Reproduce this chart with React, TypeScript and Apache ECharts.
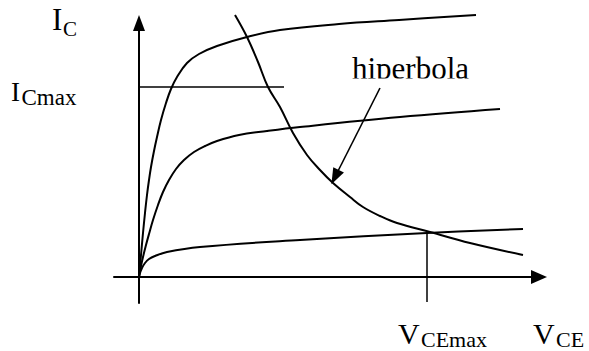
import React, { useEffect, useRef } from "react";
import * as echarts from "echarts";

// Schematic units: x = V_CE, y = I_C (arbitrary units, origin at the axes' crossing)
const curveHigh: [number, number][] = [
  [0, 0], [2, 22], [4, 44], [6, 64], [8, 82], [10, 97], [12, 110], [15, 126],
  [18, 140], [22, 157], [27, 174], [32, 188], [38, 200], [48, 214], [60, 223],
  [78, 231], [108, 240], [141, 247], [200, 253], [260, 257], [337, 262],
];
const curveMid: [number, number][] = [
  [0, 0], [1, 6], [2, 11], [4, 20], [7, 32], [10, 43], [14, 57], [19, 72],
  [24, 85], [30, 97], [37, 108], [45, 117], [55, 125], [66, 131], [78, 136],
  [100, 142], [128, 146], [161, 150], [261, 160], [361, 168],
];
const curveLow: [number, number][] = [
  [0, 0], [1, 4], [3, 9], [6, 14], [10, 18], [16, 21], [28, 25], [61, 30],
  [161, 37], [288, 44], [384, 48],
];
const hyperbola: [number, number][] = [
  [96, 262], [108, 240], [119, 215], [129, 190], [141, 170], [154, 144], [168, 122],
  [181, 107], [194, 94], [211, 80], [224, 70], [241, 61], [258, 54], [291, 45],
  [331, 34], [384, 22],
];
const icMaxLine: [number, number][] = [[0, 190], [145, 190]];
const vceMaxLine: [number, number][] = [[288, 45], [288, -25]];
const pointerFrom: [number, number] = [241, 189];
const pointerTo: [number, number] = [196, 100];

const labels = {
  ic: ["I", "C"],
  icmax: ["I", "Cmax"],
  vcemax: ["V", "CEmax"],
  vce: ["V", "CE"],
  hyper: "hiperbola",
};

const FONT = "Liberation Serif";

export default function App() {
  const ref = useRef<HTMLDivElement>(null);
  useEffect(() => {
    if (!ref.current) return;
    const chart = echarts.init(ref.current, null, { renderer: "svg" });
    const lineBase = {
      type: "line" as const,
      showSymbol: false,
      symbol: "none",
      clip: false,
      silent: true,
      smooth: 0.4,
      lineStyle: { color: "#000", width: 2 },
    };
    const txt = (x: number, y: number, text: string, size: number) => ({
      type: "text",
      x,
      y,
      silent: true,
      style: {
        text,
        fontFamily: FONT,
        fontSize: size,
        fill: "#000",
        verticalAlign: "middle",
        align: "left",
      },
    });
    chart.setOption({
      animation: false,
      backgroundColor: "#fff",
      grid: { left: 114, top: 23, width: 425, height: 280, containLabel: false },
      xAxis: {
        type: "value",
        min: -25,
        max: 400,
        axisLine: {
          show: true,
          onZero: true,
          symbol: ["none", "triangle"],
          symbolSize: [14, 16],
          lineStyle: { color: "#000", width: 2 },
        },
        axisTick: { show: false },
        axisLabel: { show: false },
        splitLine: { show: false },
      },
      yAxis: {
        type: "value",
        min: -26,
        max: 254,
        axisLine: {
          show: true,
          onZero: true,
          symbol: ["none", "triangle"],
          symbolSize: [12, 16],
          lineStyle: { color: "#000", width: 2 },
        },
        axisTick: { show: false },
        axisLabel: { show: false },
        splitLine: { show: false },
      },
      series: [
        { ...lineBase, data: curveHigh },
        { ...lineBase, data: curveMid },
        { ...lineBase, data: curveLow },
        {
          ...lineBase,
          data: hyperbola,
          markLine: {
            silent: true,
            symbol: ["none", "triangle"],
            symbolSize: [12, 16],
            label: { show: false },
            lineStyle: { color: "#000", width: 1.6, type: "solid" },
            data: [[{ coord: pointerFrom }, { coord: pointerTo }]],
          },
        },
        { ...lineBase, smooth: false, data: icMaxLine, lineStyle: { color: "#000", width: 1.5 } },
        { ...lineBase, smooth: false, data: vceMaxLine, lineStyle: { color: "#000", width: 1.5 } },
      ],
      graphic: [
        txt(52, 19.5, labels.ic[0], 31),
        txt(63, 28.6, labels.ic[1], 21),
        txt(11, 92, labels.icmax[0], 27),
        txt(21.5, 97.2, labels.icmax[1], 23),
        txt(398, 333, labels.vcemax[0], 30),
        txt(421, 339.6, labels.vcemax[1], 22),
        txt(533, 333, labels.vce[0], 30),
        txt(556, 339.6, labels.vce[1], 22),
        txt(352, 68, labels.hyper, 31),
        {
          type: "rect",
          silent: true,
          z: 100,
          shape: { x: 348, y: 78.5, width: 130, height: 8 },
          style: { fill: "#fff" },
        },
      ],
    });
    return () => chart.dispose();
  }, []);
  return (
    <div
      ref={ref}
      style={{ position: "fixed", left: 0, top: 0, width: 589, height: 351 }}
    />
  );
}
